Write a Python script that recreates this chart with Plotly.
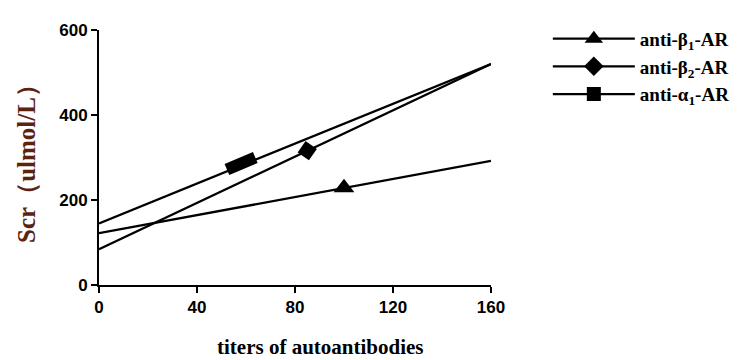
import plotly.graph_objects as go

# Data
series_names = ["anti-β<sub>1</sub>-AR", "anti-β<sub>2</sub>-AR", "anti-α<sub>1</sub>-AR"]
x_points = [0, 160]
y_start = [122, 84, 145]
y_end = [292, 520, 520]
marker_x = [100, 85, 58]
marker_y = [229, 316, 286]

x_ticks = [0, 40, 80, 120, 160]
y_ticks = [0, 200, 400, 600]

marker_styles = [
    dict(symbol="triangle-up", size=18, color="black"),
    dict(symbol="diamond", size=15, color="black", angle=-10),
    dict(symbol="line-ew", size=22, color="black", angle=-23,
         line=dict(color="black", width=12)),
]
legend_markers = [
    dict(symbol="triangle-up", size=18, color="black"),
    dict(symbol="diamond", size=15, color="black"),
    dict(symbol="square", size=14, color="black"),
]

fig = go.Figure()
for i, name in enumerate(series_names):
    fig.add_trace(go.Scatter(
        x=x_points, y=[y_start[i], y_end[i]], mode="lines",
        line=dict(color="black", width=2.3), showlegend=False, hoverinfo="skip"))
    fig.add_trace(go.Scatter(
        x=[marker_x[i]], y=[marker_y[i]], mode="markers",
        marker=marker_styles[i], showlegend=False))
    # legend entry
    fig.add_trace(go.Scatter(
        x=[None], y=[None], mode="lines+markers", name=name,
        line=dict(color="black", width=2.3), marker=legend_markers[i]))

tickfont = dict(family="Liberation Sans, Arial", size=17, color="black", weight="bold")
fig.update_layout(
    width=740, height=360,
    margin=dict(l=91, r=257, t=16, b=83),
    plot_bgcolor="white", paper_bgcolor="white",
    legend=dict(x=1.145, y=1.04, xanchor="left", yanchor="top",
                font=dict(family="Liberation Serif, Times New Roman", size=19, color="black", weight="bold"),
                itemwidth=82, tracegroupgap=4, bgcolor="rgba(0,0,0,0)"),
    xaxis=dict(range=[0, 160], tickvals=x_ticks, showgrid=False, zeroline=False,
               showline=True, linecolor="black", linewidth=2,
               ticks="outside", ticklen=6, tickwidth=2, tickcolor="black",
               tickfont=tickfont),
    yaxis=dict(range=[0, 600], tickvals=y_ticks, showgrid=False, zeroline=False,
               showline=True, linecolor="black", linewidth=2,
               ticks="outside", ticklen=6, tickwidth=2, tickcolor="black",
               tickfont=tickfont,
               title=dict(text="Scr（ulmol/L）", standoff=16,
                          font=dict(family="Liberation Serif, Times New Roman", size=25, color="#5a2410", weight="bold"))),
    annotations=[dict(text="titers of autoantibodies", xref="paper", yref="paper",
                      x=0.564, y=-0.245, xanchor="center", yanchor="middle", showarrow=False,
                      font=dict(family="Liberation Serif, Times New Roman", size=21, color="black", weight="bold"))],
)
fig.write_html("out.html")
